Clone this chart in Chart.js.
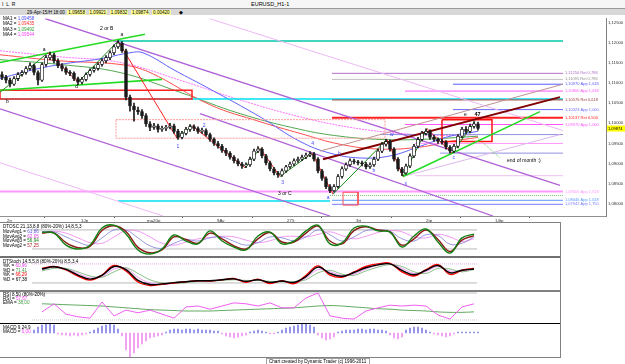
<!DOCTYPE html>
<html>
<head>
<meta charset="utf-8">
<script src="https://cdn.jsdelivr.net/npm/chart.js@4.4.1/dist/chart.umd.min.js"></script>
<style>
  html, body { margin: 0; padding: 0; background: #fff; }
  #wrap { position: relative; width: 625px; height: 364px; overflow: hidden;
          font-family: "Liberation Sans", Arial, sans-serif; }
  canvas { position: absolute; }
  .box { position: absolute; }
  .t { position: absolute; font-size: 4.6px; line-height: 5px; white-space: nowrap; color: #000; }
  .y { background: #ffff99; padding: 0 1px; }
</style>
</head>
<body>
<div id="wrap">
  <!-- title row + info strip -->
  <div class="box" style="left:0;top:0;width:625px;height:8px;background:#f6f6f6;border-bottom:1px solid #9a9a9a"></div>
  <div class="t" style="left:2px;top:1.5px;font-size:5px">I&nbsp;&nbsp;L&nbsp;&nbsp;R</div>
  <div class="t" style="left:251px;top:1.5px;font-size:5.5px">EURUSD_H1-1</div>
  <div class="box" style="left:0;top:9px;width:625px;height:6px;background:#d8d8d8"></div>
  <div class="t" style="left:27px;top:10px">29-Apr-15/H 18:00 &nbsp;<span class="y">1,09658</span> &nbsp;<span class="y">1,09921</span> &nbsp;<span class="y">1,09832</span> &nbsp;<span class="y">1,09874</span> &nbsp;<span class="y">0,00420</span></div>
  <div class="t" style="left:179px;top:10px">&#9670;</div>

  <canvas id="mainChart" width="625" height="208" style="left:0;top:15px"></canvas>

  <!-- MA legend -->
  <div class="t" style="left:3px;top:16px">MA1 = <span style="color:#4a4aff">1,09458</span></div>
  <div class="t" style="left:3px;top:21.3px">MA2 = <span style="color:#ff3030">1,09435</span></div>
  <div class="t" style="left:3px;top:26.6px">MA3 = <span style="color:#30a030">1,09492</span></div>
  <div class="t" style="left:3px;top:31.9px">MA4 = <span style="color:#ff40ff">1,09544</span></div>

  <!-- indicator panels -->
  <div class="box" style="left:0;top:222px;width:561px;height:1px;background:#808080"></div>
  <canvas id="oscChart" width="560" height="33" style="left:0;top:223px"></canvas>
  <div class="box" style="left:0;top:256px;width:561px;height:2px;background:#707070"></div>
  <canvas id="stochChart" width="560" height="32" style="left:0;top:258px"></canvas>
  <div class="box" style="left:0;top:290px;width:561px;height:2px;background:#808080"></div>
  <canvas id="rsiChart" width="560" height="31" style="left:0;top:292px"></canvas>
  <div class="box" style="left:0;top:323px;width:561px;height:1px;background:#000"></div>
  <canvas id="macdChart" width="560" height="33" style="left:0;top:324px"></canvas>
  <div class="box" style="left:0;top:357px;width:561px;height:1px;background:#808080"></div>
  <div class="box" style="left:560px;top:222px;width:1px;height:136px;background:#808080"></div>

  <div class="t" style="left:3px;top:224px">DTOSC 21,13,8,8 (80%-20%) 14,8,5,3</div>
  <div class="t" style="left:3px;top:229px">MovAvg1 = <span style="color:#5a5ad8">63,86</span></div>
  <div class="t" style="left:3px;top:233.7px">MovAvg2 = <span style="color:#e040e0">62,05</span></div>
  <div class="t" style="left:3px;top:238.4px">MovAvg3 = <span style="color:#108010">56,94</span></div>
  <div class="t" style="left:3px;top:243.1px">MovAvg2 = <span style="color:#b02020">57,25</span></div>

  <div class="t" style="left:3px;top:258.5px">DTStoch 14,5,5,8 (80%-20%) 8,5,3,4</div>
  <div class="t" style="left:3px;top:263px">%K = <span style="color:#e040e0">60,96</span></div>
  <div class="t" style="left:3px;top:267.5px">%D = <span style="color:#40a040">71,41</span></div>
  <div class="t" style="left:3px;top:272px">%K = <span style="color:#ff0000">66,29</span></div>
  <div class="t" style="left:3px;top:276.5px">%D = <span style="color:#000">67,38</span></div>

  <div class="t" style="left:3px;top:291.5px">RSI 8,50 (80%-20%)</div>
  <div class="t" style="left:3px;top:295.5px">RSI = <span style="color:#f040f0">57,67</span></div>
  <div class="t" style="left:3px;top:299.5px">EMA = <span style="color:#40a040">38,00</span></div>

  <div class="t" style="left:3px;top:325px">MACD 9,24,9</div>
  <div class="t" style="left:3px;top:329.3px">MACD = <span style="color:#f040f0">0,00</span></div>

  <div class="box" style="left:266px;top:358px;width:102px;height:5px;border:1px solid #a0a0a0;border-bottom:none"></div>
  <div class="t" style="left:269px;top:358.8px">Chart created by Dynamic Trader (c) 1996-2011</div>
</div>

<script>
/* ---------------- price data (one candle per bar index) ---------------- */
const firstOpen = 1.1121;
const closes = [
  1.1114,1.1107,1.1097,1.1111,1.1121,1.1126,1.1136,1.1143,1.1126,1.1107,
  1.1146,1.1163,1.1170,1.1155,1.1143,1.1136,1.1126,1.1124,1.1111,1.1102,
  1.1109,1.1121,1.1131,1.1136,1.1146,1.1155,1.1163,1.1175,1.1190,1.1199,
  1.1180,1.1065,1.1043,1.1033,1.1029,1.1019,1.0999,1.0990,1.0994,1.0985,
  1.0987,1.0990,1.0994,1.0980,1.0965,1.0975,1.0985,1.0992,1.0987,1.0980,
  1.0982,1.0972,1.0960,1.0950,1.0943,1.0933,1.0926,1.0916,1.0907,1.0899,
  1.0894,1.0897,1.0911,1.0931,1.0936,1.0919,1.0902,1.0887,1.0877,1.0872,
  1.0882,1.0892,1.0899,1.0907,1.0911,1.0916,1.0921,1.0924,1.0911,1.0882,
  1.0863,1.0843,1.0833,1.0843,1.0868,1.0887,1.0897,1.0907,1.0904,1.0902,
  1.0899,1.0892,1.0897,1.0911,1.0931,1.0948,1.0955,1.0936,1.0911,1.0887,
  1.0877,1.0894,1.0919,1.0943,1.0960,1.0975,1.0980,1.0965,1.0960,1.0955,
  1.0953,1.0941,1.0931,1.0943,1.0968,1.0985,1.0980,1.0992,1.0999,1.0987
];
const highs = [
  1.1128,1.1119,1.1112,1.1116,1.1126,1.1131,1.1141,1.1150,1.1147,1.1130,
  1.1150,1.1168,1.1177,1.1174,1.1160,1.1148,1.1140,1.1131,1.1128,1.1115,
  1.1114,1.1125,1.1135,1.1141,1.1150,1.1160,1.1168,1.1180,1.1195,1.1205,
  1.1203,1.1184,1.1070,1.1050,1.1040,1.1034,1.1024,1.1004,1.1000,1.0998,
  1.0993,1.0995,1.1000,1.0998,1.0985,1.0980,1.0990,1.0997,1.0996,1.0991,
  1.0988,1.0986,1.0976,1.0964,1.0955,1.0948,1.0938,1.0930,1.0920,1.0912,
  1.0903,1.0902,1.0916,1.0936,1.0942,1.0940,1.0923,1.0906,1.0891,1.0881,
  1.0887,1.0896,1.0904,1.0912,1.0916,1.0921,1.0926,1.0930,1.0928,1.0915,
  1.0886,1.0867,1.0848,1.0848,1.0873,1.0892,1.0902,1.0912,1.0911,1.0908,
  1.0906,1.0903,1.0902,1.0916,1.0936,1.0953,1.0961,1.0959,1.0940,1.0915,
  1.0891,1.0899,1.0924,1.0948,1.0965,1.0980,1.0986,1.0984,1.0970,1.0964,
  1.0960,1.0957,1.0945,1.0948,1.0972,1.0990,1.0992,1.0998,1.1004,1.1003
];
const lows = [
  1.1108,1.1100,1.1090,1.1094,1.1106,1.1117,1.1122,1.1132,1.1120,1.1095,
  1.1104,1.1141,1.1158,1.1150,1.1138,1.1130,1.1121,1.1118,1.1106,1.1096,
  1.1098,1.1105,1.1117,1.1127,1.1132,1.1142,1.1150,1.1158,1.1170,1.1186,
  1.1176,1.1058,1.1030,1.1005,1.1022,1.1012,1.0992,1.0982,1.0985,1.0978,
  1.0980,1.0982,1.0986,1.0975,1.0960,1.0961,1.0971,1.0980,1.0982,1.0975,
  1.0975,1.0968,1.0955,1.0945,1.0938,1.0928,1.0920,1.0911,1.0902,1.0894,
  1.0888,1.0890,1.0893,1.0907,1.0927,1.0914,1.0897,1.0882,1.0872,1.0866,
  1.0868,1.0878,1.0888,1.0895,1.0903,1.0907,1.0912,1.0917,1.0906,1.0877,
  1.0858,1.0838,1.0828,1.0829,1.0839,1.0864,1.0883,1.0893,1.0899,1.0897,
  1.0894,1.0887,1.0888,1.0893,1.0907,1.0927,1.0943,1.0931,1.0906,1.0882,
  1.0870,1.0873,1.0890,1.0915,1.0939,1.0956,1.0971,1.0960,1.0955,1.0950,
  1.0948,1.0936,1.0926,1.0927,1.0939,1.0964,1.0975,1.0976,1.0988,1.0983
];

// axis ticks
const priceTicks = [1.080, 1.085, 1.090, 1.095, 1.100, 1.105, 1.110, 1.115, 1.120, 1.125];
const dateTickIdx = [1.25, 19.75, 36.25, 53.75, 71.25, 88.5, 106, 123.25];
const dateLabels = ['2n', '1Jp', 'ma20p', '9Av', '275', '3tt', '2tp', '14tp'];

// moving averages  [bar index, price]
const ma1 = [[-0.5,1.1111],[7,1.1131],[14.5,1.1146],[24.5,1.1160],[32,1.1175],[35.25,1.1175],[43.25,1.1131],[52,1.1085],[64.5,1.1016],[74.5,1.0955],[82,1.0926],[89.5,1.0914],[97,1.0919],[104.5,1.0943],[112,1.0968],[119,1.0980]];
const ma2 = [[-0.5,1.1170],[14.5,1.1155],[29.5,1.1146],[37,1.1126],[52,1.1046],[64.5,1.1004],[74.5,1.0975],[84.5,1.0948],[94.5,1.0936],[104.5,1.0941],[112,1.0955],[119,1.0965]];
const ma3 = [[-0.5,1.1158],[14.5,1.1146],[29.5,1.1126],[44.5,1.1077],[59.5,1.1024],[74.5,1.0985],[84.5,1.0968],[94.5,1.0960],[104.5,1.0960],[119,1.0968]];
const ma4 = [[-0.5,1.1180],[14.5,1.1165],[29.5,1.1151],[44.5,1.1107],[59.5,1.1058],[74.5,1.1016],[87,1.0990],[99.5,1.0975],[109.5,1.0970],[119,1.0972]];

// wave count zigzag pivots
const waveIdx   = [-0.5, 11.5, 19, 29, 43.75, 47.5, 60.75, 64.5, 69.5, 77.5, 82.75, 96.25, 100.25, 106.25, 112.5, 118.25];
const wavePrice = [1.1077, 1.1175, 1.1102, 1.1204, 1.0963, 1.0994, 1.0890, 1.0938, 1.0868, 1.0926, 1.0824, 1.0960, 1.0868, 1.0987, 1.0926, 1.1004];

// horizontal levels
const levelPrice = [1.1204, 1.1124, 1.1109, 1.1097, 1.1080, 1.1058, 1.1060, 1.1034, 1.1014, 1.0997, 1.0972, 1.0950, 1.0926, 1.0870, 1.0831, 1.0821, 1.0809, 1.0799, 1.0807];
const levelStart = [29, 82.5, 82.5, 112.75, 100.75, 82.5, -0.5, 112.75, 82.5, 100.75, 94.5, 103.25, 109.5, 103.25, -0.5, 82, 82.5, 82.5, 29];
const levelEnd   = [140.25, 140.25, 140.25, 140.25, 140.25, 140.25, 140.25, 140.25, 140.25, 140.25, 140.25, 140.25, 140.25, 140.25, 140.25, 140.25, 140.25, 140.25, 82];
const levelText  = ['', '1,11250 Ret 0,786', '1,11095 Ret 0,786', '1,10970 App 1,618', '1,10800 App 1,618', '1,10576 Ret 0,618', '',
                    '1,10323 App 1,000', '1,10137 Ret 0,500', '1,09970 App 1,000', '', '', '', '', '1,08306 App 1,618', '',
                    '1,08046 App 1,618', '1,07942 App 1,750', ''];

// trend lines  [[idx, price], [idx, price]]
const trendLines = [
  [[10.75,1.1260],[139.5,1.0846]],   // violet channel upper
  [[-0.5,1.1036],[82,1.0770]],       // violet channel lower
  [[-0.5,1.0902],[40.25,1.0770]],    // lavender
  [[51.75,1.1260],[140.25,1.0982]],  // lavender
  [[49.5,1.1024],[122.75,1.0770]],   // violet
  [[-0.5,1.1151],[35.75,1.1221]],    // green upper left
  [[-0.5,1.1082],[40,1.1109]],       // green lower left
  [[100.25,1.0868],[134.5,1.1029]],  // green right
  [[80.25,1.0911],[139.5,1.1065]],   // maroon
  [[79.5,1.0931],[140.25,1.1097]],   // thin brown
  [[100.25,1.0868],[139.5,1.0972]],  // pale lavender
  [[119,1.0963],[124.5,1.0914]]      // dotted arrow
];

// boxes  [idx0, idx1, priceTop, priceBottom]
const boxes = [
  [-0.5, 47.5, 1.1082, 1.1060],
  [28.5, 95.75, 1.1009, 1.0963],
  [110, 122.5, 1.1009, 1.0955],
  [85.25, 89, 1.0829, 1.0797]
];

// chart annotations
const noteText  = ['2 or B','a','a','b','d','1','2','3','3 or C','4','a','b','b','w','x','c','e','47','end of month :)'];
const noteIdx   = [24.5, 29.6, 10.2, 1, 18.3, 43.6, 50.2, 69.8, 69, 77.3, 81.2, 84, 92.6, 97, 100.6, 112.6, 115.5, 118.1, 126.25];
const notePrice = [1.1236, 1.1220, 1.1183, 1.1053, 1.1092, 1.0943, 1.0994, 1.0854, 1.0826, 1.0949, 1.0816, 1.0926, 1.0882, 1.0972, 1.0850, 1.0914, 1.1021, 1.1023, 1.0907];

/* ---------------- indicator data ---------------- */
const oscIdx = [10,13,16,19,22,25,28,31,34,37,40,43,46,49,52,55,58,61,64,67,70,73,76,79,82,85,88,91,94,97,100,103,106,109,112,115,118];
const dtoscGreen = [73,70,32,20,32,86,95,67,17,4,20,64,45,36,77,45,26,17,61,73,36,45,77,95,36,39,86,92,77,73,26,61,83,42,7,55,67];
const dtoscRed   = [70,71,40,24,28,78,93,75,25,8,17,58,50,38,70,52,30,20,52,72,42,42,70,92,45,36,78,90,80,74,32,52,80,50,12,48,62];
const dtoscBlue  = [75,74,58,42,32,55,80,80,55,30,22,38,50,45,55,58,44,32,40,58,55,46,58,80,65,45,58,78,80,76,52,45,65,62,35,38,58];
const dtoscMag   = [72,76,70,55,40,38,58,78,76,58,38,32,42,52,56,60,58,48,40,46,58,60,58,66,74,62,52,60,72,78,74,58,55,66,58,44,52];

const stochRed   = [66,72,61,42,29,45,75,58,23,12,16,20,24,27,26,30,34,22,32,18,27,18,44,74,45,38,55,72,80,82,55,42,62,78,47,60,66];
const stochBlack = [64,71,63,45,32,44,72,62,28,15,17,21,24,27,27,30,33,25,30,22,26,22,40,70,50,41,53,68,77,80,60,46,60,75,52,60,64];
const stochGreen = [58,66,66,55,42,38,55,68,50,30,20,18,21,25,26,28,30,28,28,25,24,24,30,52,60,48,44,58,70,78,72,55,50,66,64,55,62];
const stochMag   = [62,70,65,50,36,40,64,66,38,20,16,19,23,26,27,29,32,26,29,22,25,22,35,62,55,44,48,64,76,81,66,50,56,72,58,57,64];

const rsiVals = [38,56,33,27,24,60,29,42,36,42,33,24,49,51,44,51,58,56,51,58,47,47,69,80,29,24,22,40,47,53,51,53,51,31,22,49,56];
const rsiEma  = [56,55,54,53,52,51,49,47,45,43,42,41,40,40,40,41,42,43,44,45,46,47,49,51,52,51,49,47,45,44,42,41,40,38,37,37,38];

const macdStart = 8;
const macdHist = [
  3,6,8,10,10,8,-1,-2,-2,-3,
  -2,-3,-2,-1,1,3,5,7,8,9,
  8,4,-3,-17,-24,-20,-15,-11,-8,-5,
  -4,-3,-2,1,3,4,4,3,4,4,
  3,4,3,3,3,2,2,-1,-3,-4,
  -5,-4,-3,-2,1,2,3,2,1,-1,
  -1,1,3,5,6,7,8,9,9,8,
  6,-2,-5,-7,-6,-4,1,2,3,3,
  3,4,4,3,4,4,3,3,2,-2,
  -5,-6,-4,3,5,6,6,5,3,1,
  -1,-2,-3,-4,-3,-1,1,1,1,1,
  1,1
];
const oscGuides = [20, 80];

/* ---------------- styles ---------------- */
const levelColor = ['#00c8a8','#b070c8','#c0c0c0','#5a5aff','#ff55ff','#a04040','#00e0f0','#6a6aff','#ff2020','#ff55ff',
                    '#9090e0','#ff99ff','#9090e0','#f0c0f0','#ff99ff','#80c080','#5898ff','#7878ff','#00e0f0'];
const levelWidth = [1.5,1,1,1,1,1,1.5,1,2,1,1,1,1,1,2,1,1,1,1.5];
const trendColor = ['#b060d8','#b060d8','#ecb8f4','#ecb8f4','#b060d8','#22dd22','#22dd22','#22dd22','#800000','#c09090','#dcb8ec','#60d060'];
const trendWidth = [1.3,1.3,1,1,1.3,1.6,1.6,1.6,2,1,1,1];
const boxColor = ['#ff2020','#ff9a9a','#ff1010','#ff5050'];
const boxWidth = [1.5,1,1.5,1];
const noteColor = ['#000','#000','#000','#000','#000','#4040ff','#4040ff','#4040ff','#000','#4040ff',
                   '#4040ff','#4040ff','#4040ff','#4040ff','#4040ff','#4040ff','#000','#000','#000'];
const FONT = '"Liberation Sans", Arial, sans-serif';

Chart.defaults.animation = false;
Chart.defaults.events = [];
Chart.defaults.font.family = FONT;
Chart.defaults.plugins.legend.display = false;
Chart.defaults.plugins.tooltip.enabled = false;

const pts = arr => arr.map(p => ({ x: p[0], y: p[1] }));
function lineDs(data, color, width, extra) {
  return Object.assign({
    type: 'line', data, borderColor: color, borderWidth: width,
    pointRadius: 0, fill: false, tension: 0, order: 2
  }, extra || {});
}

// text marks + current price tag, drawn with the chart's own scales
const marksPlugin = {
  id: 'marks',
  afterDatasetsDraw(chart, args, opts) {
    const { ctx, scales: { x, y } } = chart;
    ctx.save();
    ctx.textBaseline = 'middle';
    (opts.items || []).forEach(m => {
      ctx.font = m.font;
      ctx.fillStyle = m.color;
      ctx.textAlign = m.align || 'left';
      ctx.fillText(m.text, x.getPixelForValue(m.x), y.getPixelForValue(m.y));
    });
    if (opts.tag) {
      const py = y.getPixelForValue(opts.tag.value);
      ctx.fillStyle = '#ffff00';
      ctx.fillRect(chart.chartArea.right + 1, py - 3, 18, 6);
      ctx.fillStyle = '#000';
      ctx.font = '4px ' + FONT;
      ctx.textAlign = 'left';
      ctx.fillText(opts.tag.text, chart.chartArea.right + 2, py);
    }
    ctx.restore();
  }
};

/* ---------------- main price panel ---------------- */
const N = closes.length;
const opens = closes.map((c, i) => i === 0 ? firstOpen : closes[i - 1]);
const datasets = [];

datasets.push({
  type: 'bar', data: closes.map((c, i) => ({ x: i, y: [opens[i], c] })),
  backgroundColor: closes.map((c, i) => c >= opens[i] ? '#ffffff' : '#1a1a1a'),
  borderColor: '#1a1a1a', borderWidth: 0.8, borderSkipped: false,
  barThickness: 3, minBarLength: 1, grouped: false, order: 0
});
datasets.push({
  type: 'bar', data: highs.map((h, i) => ({ x: i, y: [lows[i], h] })),
  backgroundColor: '#1a1a1a', barThickness: 1, grouped: false, order: 0
});

datasets.push(lineDs(
  waveIdx.map((v, i) => ({ x: v, y: wavePrice[i] })), '#ff2020', 1,
  { order: 1, segment: { borderColor: c => c.p1.parsed.y > c.p0.parsed.y ? '#1a8a1a' : '#ff2020' } }
));

trendLines.forEach((t, k) => datasets.push(lineDs(pts(t), trendColor[k], trendWidth[k],
  k === trendLines.length - 1 ? { borderDash: [1, 1] } : { order: k >= 5 && k <= 8 ? 1 : 3 })));

levelPrice.forEach((p, k) => datasets.push(lineDs(
  [{ x: levelStart[k], y: p }, { x: levelEnd[k], y: p }], levelColor[k], levelWidth[k],
  k === 15 ? { borderDash: [1, 1], order: 3 } : { order: 3 })));

boxes.forEach((b, k) => datasets.push(lineDs(
  [{ x: b[0], y: b[2] }, { x: b[1], y: b[2] }, { x: b[1], y: b[3] }, { x: b[0], y: b[3] }, { x: b[0], y: b[2] }],
  boxColor[k], boxWidth[k], k === 1 ? { borderDash: [2, 1], order: 1 } : { order: 1 })));

datasets.push(lineDs(pts(ma1), '#6060ff', 1, { tension: 0.4, order: 4 }));
datasets.push(lineDs(pts(ma2), '#ff5050', 1, { tension: 0.4, order: 4 }));
datasets.push(lineDs(pts(ma3), '#50a850', 1, { tension: 0.4, order: 4 }));
datasets.push(lineDs(pts(ma4), '#ff70ff', 1, { tension: 0.4, order: 4, borderDash: [2, 1] }));

const mainNotes = noteText.map((s, k) => ({
  text: s, x: noteIdx[k], y: notePrice[k], color: noteColor[k],
  font: (s === '47' ? 'bold 5.5px ' : '5px ') + FONT, align: 'left'
}));
levelText.forEach((s, k) => {
  if (s) mainNotes.push({ text: s, x: 140.75, y: levelPrice[k], color: levelColor[k] === '#c0c0c0' ? '#909090' : levelColor[k], font: '4px ' + FONT });
});

new Chart(document.getElementById('mainChart'), {
  type: 'line',
  data: { datasets },
  options: {
    responsive: false, maintainAspectRatio: false, devicePixelRatio: 1,
    layout: { padding: 0 },
    plugins: { marks: { items: mainNotes, tag: { value: closes[N - 1], text: '1,09874' } } },
    scales: {
      x: {
        type: 'linear', min: -0.5, max: 151, offset: false, position: 'bottom',
        afterFit: s => { s.height = 7; },
        afterBuildTicks: s => { s.ticks = dateTickIdx.map(v => ({ value: v })); },
        ticks: { autoSkip: false, maxRotation: 0, align: 'start', padding: 0,
                 font: { size: 4.4 }, color: '#333', callback: (v, i) => dateLabels[i] },
        grid: { display: true, drawOnChartArea: false, tickLength: 2, color: '#606060' },
        border: { display: true, color: '#909090' }
      },
      y: {
        type: 'linear', position: 'right', min: 1.0770, max: 1.1260,
        afterFit: s => { s.width = 19; },
        afterBuildTicks: s => { s.ticks = priceTicks.map(v => ({ value: v })); },
        ticks: { padding: 1, font: { size: 4.2 }, color: '#333',
                 callback: v => v.toFixed(5).replace('.', ',') },
        grid: { display: true, drawOnChartArea: false, tickLength: 1, color: '#606060' },
        border: { display: true, color: '#808080' }
      }
    }
  },
  plugins: [marksPlugin]
});

/* ---------------- indicator panels ---------------- */
function panel(id, yMin, yMax, ds) {
  new Chart(document.getElementById(id), {
    type: 'line',
    data: { datasets: ds },
    options: {
      responsive: false, maintainAspectRatio: false, devicePixelRatio: 1,
      layout: { padding: 0 },
      scales: {
        x: { type: 'linear', min: -0.5, max: 139.5, display: false, offset: false },
        y: { type: 'linear', min: yMin, max: yMax, display: false }
      }
    }
  });
}
const series = vals => vals.map((v, i) => ({ x: oscIdx[i], y: v }));
const guide = (v, color, dash) => lineDs([{ x: 7.5, y: v }, { x: 118.75, y: v }], color, 1,
  { order: 9, borderDash: dash || [] });

panel('oscChart', -2.2, 101.9, [
  lineDs(series(dtoscGreen), '#108010', 1.4, { tension: 0.4, order: 1 }),
  lineDs(series(dtoscRed), '#8b1a1a', 1.4, { tension: 0.4, order: 1 }),
  lineDs(series(dtoscBlue), '#8080d8', 0.8, { tension: 0.4, order: 2 }),
  lineDs(series(dtoscMag), '#f080f0', 0.8, { tension: 0.4, order: 2 }),
  ...oscGuides.map(v => guide(v, '#b8b8b8'))
]);

panel('stochChart', -2.2, 98.7, [
  lineDs(series(stochBlack), '#000000', 1.4, { tension: 0.4, order: 1 }),
  lineDs(series(stochRed), '#ff0000', 1.4, { tension: 0.4, order: 1 }),
  lineDs(series(stochGreen), '#70b070', 0.8, { tension: 0.3, order: 2 }),
  lineDs(series(stochMag), '#f080f0', 0.8, { tension: 0.4, order: 2 }),
  guide(oscGuides[0], '#b8b8b8'), guide(oscGuides[1], '#e8b0e8', [1, 1])
]);

panel('rsiChart', 13.3, 82.2, [
  lineDs(series(rsiVals), '#f060f0', 1, { order: 1 }),
  lineDs(series(rsiEma), '#60a860', 1, { tension: 0.4, order: 2 }),
  guide(oscGuides[0], '#c8c8c8', [1, 1]), guide(oscGuides[1], '#c0c0c0')
]);

panel('macdChart', -24, 9, [{
  type: 'bar',
  data: macdHist.map((v, i) => ({ x: macdStart + i, y: [0, v] })),
  backgroundColor: macdHist.map(v => v >= 0 ? '#8080e8' : '#f090f0'),
  barThickness: 1, grouped: false, order: 1
}]);
</script>
</body>
</html>
